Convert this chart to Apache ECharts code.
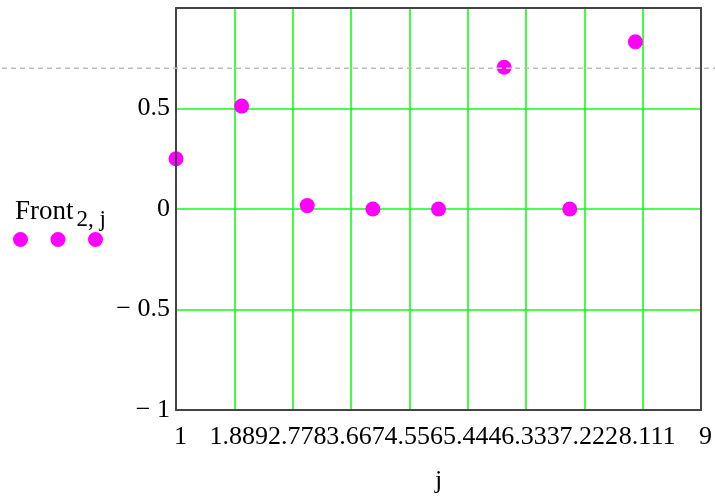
<!DOCTYPE html>
<html><head><meta charset="utf-8">
<script src="https://cdn.jsdelivr.net/npm/echarts@6/dist/echarts.min.js"></script>
<style>html,body{margin:0;padding:0;background:#fff}#c{width:715px;height:499px}</style>
</head><body><div id="c"></div>
<script>
// ---- data ----
const jValues = [1, 2, 3, 4, 5, 6, 7, 8];
const frontValues = [0.25, 0.512, 0.017, 0, 0, 0.705, 0, 0.832];
const xTickLabels = [1, 1.889, 2.778, 3.667, 4.556, 5.444, 6.333, 7.222, 8.111, 9];
const yMin = -1, yMax = 1, yStep = 0.5;
const refLevel = 0.7;
const seriesName = 'Front';
const seriesSub = '2, j';
const xName = 'j';

const FONT = '"Liberation Serif", "Times New Roman", serif';
const chart = echarts.init(document.getElementById('c'), null, {renderer: 'canvas'});
const gridLine = {show: true, lineStyle: {color: '#11ff11', width: 1.6}};
const border = {show: true, onZero: false, lineStyle: {color: '#444', width: 2}};
const blankAxis = {axisTick: {show: false}, axisLabel: {show: false}, splitLine: {show: false}, axisLine: border, z: 5};

const option = {
  animation: false,
  backgroundColor: '#fff',
  title: {
    text: '{a|' + seriesName + '}{b|' + seriesSub + '}',
    left: 15, top: 192, padding: 0,
    textStyle: {fontWeight: 'normal', rich: {
      a: {fontFamily: FONT, fontSize: 27, fontWeight: 'normal', color: '#000'},
      b: {fontFamily: FONT, fontSize: 23, fontWeight: 'normal', color: '#000', padding: [16, 0, 0, 3]}
    }}
  },
  legend: {
    left: 13, top: 232, padding: 0, itemWidth: 90, itemHeight: 15,
    formatter: () => '', selectedMode: false,
    icon: 'path://M0,7.5A7.5,7.5,0,1,0,15,7.5A7.5,7.5,0,1,0,0,7.5ZM37.5,7.5A7.5,7.5,0,1,0,52.5,7.5A7.5,7.5,0,1,0,37.5,7.5ZM75,7.5A7.5,7.5,0,1,0,90,7.5A7.5,7.5,0,1,0,75,7.5Z',
    data: [seriesName]
  },
  grid: {left: 176, right: 13, top: 8, bottom: 88, containLabel: false},
  xAxis: [
    {type: 'value', min: xTickLabels[0], max: xTickLabels[xTickLabels.length - 1],
     name: xName, nameLocation: 'middle', nameGap: 58,
     nameTextStyle: {fontFamily: FONT, fontSize: 26, color: '#000'},
     axisLine: {show: false}, axisTick: {show: false, customValues: xTickLabels},
     axisLabel: {customValues: xTickLabels, formatter: v => String(+(+v).toFixed(3)),
       fontFamily: FONT, fontSize: 26, color: '#000', margin: 14, padding: [0, 0, 0, 9]},
     splitLine: gridLine, z: 1},
    Object.assign({type: 'value', position: 'bottom', min: 1, max: 9}, blankAxis),
    Object.assign({type: 'value', position: 'top', min: 1, max: 9}, blankAxis)
  ],
  yAxis: [
    {type: 'value', min: yMin, max: yMax, interval: yStep,
     axisLine: {show: false}, axisTick: {show: false},
     axisLabel: {formatter: v => v >= yMax ? '' : (v < 0 ? '\u2212 ' + Math.abs(v) : String(v)),
       fontFamily: FONT, fontSize: 26, color: '#000', margin: 6, padding: [6, 0, 0, 0]},
     splitLine: gridLine, z: 1},
    Object.assign({type: 'value', position: 'left', min: yMin, max: yMax}, blankAxis),
    Object.assign({type: 'value', position: 'right', min: yMin, max: yMax}, blankAxis)
  ],
  series: [{
    name: seriesName, type: 'scatter', xAxisIndex: 0, yAxisIndex: 0,
    data: jValues.map((j, i) => [j, frontValues[i]]),
    symbolSize: 15, itemStyle: {color: '#ff00ff', opacity: 1}, z: 3
  }]
};
chart.setOption(option);
const py = chart.convertToPixel({yAxisIndex: 0}, refLevel);
chart.setOption({graphic: [{type: 'line', silent: true, z: 10,
  shape: {x1: 2, y1: py, x2: 715, y2: py},
  style: {stroke: '#bdbdbd', lineWidth: 1.5, lineDash: [5, 4]}}]});
</script></body></html>
